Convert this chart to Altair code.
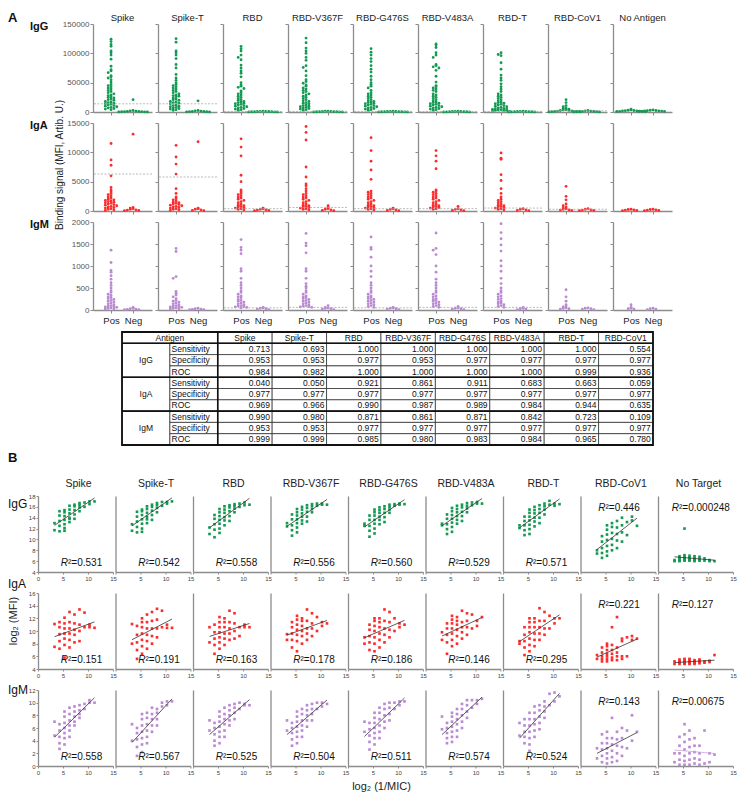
import altair as alt
import pandas as pd

FONT = "Liberation Sans"
GREY = "#8c8c8c"
COLORS = {"IgG": "#139a52", "IgA": "#fb2c2c", "IgM": "#b98ad2"}
ISOTYPES = ["IgG", "IgA", "IgM"]
ANTIGENS_A = ["Spike", "Spike-T", "RBD", "RBD-V367F", "RBD-G476S", "RBD-V483A", "RBD-T", "RBD-CoV1", "No Antigen"]
ANTIGENS_B = ["Spike", "Spike-T", "RBD", "RBD-V367F", "RBD-G476S", "RBD-V483A", "RBD-T", "RBD-CoV1", "No Target"]
TABLE_ANTIGENS = ["Spike", "Spike-T", "RBD", "RBD-V367F", "RBD-G476S", "RBD-V483A", "RBD-T", "RBD-CoV1"]
METRICS = ["Sensitivity", "Specificity", "ROC"]

# ---------------- Panel A : binding signal (MFI) ----------------
IGG_SPIKE_POS = [124000,120000,115000,112000,104000,101000,97000,90000,78000,72000,70000,67000,62000,60000,58000,55000,51000,47000,45000,43000,41000,39000,37000,35000,33000,31000,29000,28000,26000,25000,24000,22000,21000,20000,18000,17000,16000,15000,14000,13000,12000,11000,10000,9000,8000,7000,6000,5000,4000]
IGG_SPIKE_NEG = [21000,2500,2000,1600,1200,900,700,500,400,300,200,100]
IGG_SPIKET_POS = [125000,119000,104000,101000,97000,91000,81000,75000,64000,58000,54000,50000,47000,45000,43000,41000,39000,37000,35000,33000,31000,29000,28000,27000,26000,24000,22000,21000,20000,18000,17000,16000,15000,14000,12000,11000,10000,9000,8000,7000,6000,5000,4000,3000]
IGG_SPIKET_NEG = [19000,2500,2000,1500,1000,800,600,400,300,200]
IGG_RBD_POS = [112000,108000,104000,97000,93000,89000,80000,75000,70000,66000,60000,50000,46000,44000,42000,40000,36000,33000,31000,29000,27000,25000,23000,21000,20000,18000,17000,16000,15000,14000,13000,12000,11000,10000,9000,8000,7000,6000,5000,4000,3000]
IGG_RBD_NEG = [1500,1200,1000,900,800,600,500,400,300,200,100]
IGG_V367F_POS = [126000,118000,109000,104000,100000,93000,88000,79000,76000,70000,62000,55000,52000,49000,46000,44000,41000,39000,37000,35000,33000,31000,29000,27000,25000,23000,21000,19000,18000,16000,15000,14000,12000,11000,10000,9000,8000,7000,6000,5000,4000,3000]
IGG_V367F_NEG = [1600,1300,1100,900,700,600,500,400,300,200,100]
IGG_G476S_POS = [108000,102000,97000,91000,86000,79000,73000,68000,61000,55000,50000,47000,44000,41000,37000,33000,31000,29000,27000,25000,23000,21000,19000,18000,17000,16000,15000,14000,13000,12000,11000,10000,9000,8000,7000,6000,5000,4000,3000]
IGG_G476S_NEG = [1400,1200,1000,900,700,600,500,400,300,200,100]
IGG_V483A_POS = [116000,114000,110000,101000,97000,93000,81000,79000,77000,75000,71000,61000,51000,45000,43000,41000,39000,37000,35000,31000,29000,27000,25000,23000,21000,19000,17000,16000,15000,14000,13000,12000,11000,10000,9000,8000,7000,6000,5000,4000,3000]
IGG_V483A_NEG = [1300,1100,1000,800,700,500,400,300,200,100]
IGG_RBDT_POS = [101000,98000,96000,84000,73000,63000,58000,54000,48000,43000,39000,35000,31000,29000,27000,25000,23000,21000,19000,17000,16000,15000,14000,13000,12000,11000,10000,9000,8000,7000,6000,5500,5000,4500,4000,3500,3000,2500,2000,1500,1000]
IGG_RBDT_NEG = [1500,1200,1000,800,600,500,400,300,200,100]
IGG_COV1_POS = [21000,16000,11000,9000,7000,6000,5000,4000,3500,3000,2500,2000,1500,1200,1000,800,600,400,200]
IGG_COV1_NEG = [2500,2000,1500,1200,1000,800,600,400,200,100]
IGG_NOAG_POS = [5000,3500,3000,2500,2200,2000,1800,1500,1200,1000,800,600]
IGG_NOAG_NEG = [3500,3000,2500,2200,2000,1800,1500,1200,1000,800]
IGG_CUT = [14000, 14000, 900, 1000, 900, 900, 900, 2000, None]

IGA_SPIKE_POS = [11500,8700,7800,6000,4000,3600,3300,3000,2800,2600,2400,2200,2000,1900,1800,1700,1600,1500,1400,1300,1200,1100,1000,900,800,700,600,500,400,300,200,100]
IGA_SPIKE_NEG = [13100,600,500,400,300,200,150,100,50]
IGA_SPIKET_POS = [11200,9200,8000,6300,3800,3000,2400,2100,1900,1700,1500,1400,1300,1200,1100,1000,900,800,700,600,500,400,300,200,100]
IGA_SPIKET_NEG = [11800,500,400,300,200,100,50]
IGA_RBD_POS = [12300,10900,9400,6100,5000,3600,3300,3000,2800,2600,2400,2200,2000,1800,1600,1400,1200,1000,900,800,700,600,500,400,300,200]
IGA_RBD_NEG = [500,400,300,200,150,100,50]
IGA_V367F_POS = [14400,13400,12100,7500,5800,4600,4300,3800,3400,3000,2800,2600,2400,2200,2000,1800,1600,1400,1200,1000,900,800,700,600,500,400,300,200]
IGA_V367F_NEG = [900,600,400,300,200,100,50]
IGA_G476S_POS = [12500,10300,8500,7000,5400,3400,3200,3000,2800,2600,2400,2200,2000,1800,1600,1400,1200,1000,900,800,700,600,500,400,300,200]
IGA_G476S_NEG = [500,400,300,200,100,50]
IGA_V483A_POS = [10300,9400,8500,7200,3600,3400,3200,3000,2800,2600,2400,2200,2000,1800,1600,1400,1200,1000,900,800,700,600,500,400,300]
IGA_V483A_NEG = [800,400,300,200,100,50]
IGA_RBDT_POS = [9900,9000,8800,6200,5200,3800,3000,2400,2000,1800,1600,1400,1200,1000,900,800,700,600,500,400,300,200]
IGA_RBDT_NEG = [400,300,200,100,50]
IGA_COV1_POS = [4200,2500,1900,1200,900,700,500,400,300,200,150,100]
IGA_COV1_NEG = [400,300,200,150,100,50]
IGA_NOAG_POS = [300,250,200,150,100,50]
IGA_NOAG_NEG = [300,250,200,150,100,50]
IGA_CUT = [6300, 5800, 400, 600, 400, 400, 500, 300, None]

IGM_SPIKE_POS = [1360,1080,900,860,780,700,620,560,500,440,400,360,330,300,280,260,240,220,200,180,160,140,120,100,90,80,70,60,50,40,30,20]
IGM_SPIKE_NEG = [60,40,30,20,15,10,5]
IGM_SPIKET_POS = [1400,1330,760,720,420,380,340,300,260,220,200,180,160,140,120,100,90,80,70,60,50,40,30,20]
IGM_SPIKET_NEG = [40,30,20,15,10,5]
IGM_RBD_POS = [1600,1420,1360,1280,940,880,720,620,560,500,440,400,360,320,300,280,240,220,200,180,160,140,120,100,90,80,70,60,50]
IGM_RBD_NEG = [60,50,40,30,20,10]
IGM_V367F_POS = [1740,1520,1460,1300,940,880,720,600,540,500,440,400,360,320,300,280,260,240,220,200,180,160,140,120,100,90,80,70,60]
IGM_V367F_NEG = [100,60,50,40,30,20,10]
IGM_G476S_POS = [1660,1420,1380,1200,1000,880,760,620,560,500,440,400,360,320,300,280,260,240,220,200,180,160,140,120,100,80,60]
IGM_G476S_NEG = [60,50,40,30,20,10]
IGM_V483A_POS = [1750,1400,1360,1260,1000,860,700,620,560,500,440,400,360,320,300,260,240,220,200,180,160,140,120,100,80,60]
IGM_V483A_NEG = [80,50,40,30,20,10]
IGM_RBDT_POS = [1960,1760,1620,1480,1340,1120,1000,880,720,600,500,440,400,360,320,300,260,240,200,180,160,140,120,100,80,60]
IGM_RBDT_NEG = [60,40,30,20,10]
IGM_COV1_POS = [460,300,200,120,90,70,50,40,30,20]
IGM_COV1_NEG = [50,40,30,20,10]
IGM_NOAG_POS = [120,60,40,30,20]
IGM_NOAG_NEG = [40,30,20,10]
IGM_CUT = [None, None, 50, 60, 50, 60, 60, None, None]

A_TICKS_IGG = [0, 50000, 100000, 150000]
A_TICKS_IGA = [0, 5000, 10000, 15000]
A_TICKS_IGM = [0, 500, 1000, 1500, 2000]

# ---------------- Table ----------------
IGG_SENS = ["0.713", "0.693", "1.000", "1.000", "1.000", "1.000", "1.000", "0.554"]
IGG_SPEC = ["0.953", "0.953", "0.977", "0.953", "0.977", "0.977", "0.977", "0.977"]
IGG_ROC = ["0.984", "0.982", "1.000", "1.000", "1.000", "1.000", "0.999", "0.936"]
IGA_SENS = ["0.040", "0.050", "0.921", "0.861", "0.911", "0.683", "0.663", "0.059"]
IGA_SPEC = ["0.977", "0.977", "0.977", "0.977", "0.977", "0.977", "0.977", "0.977"]
IGA_ROC = ["0.969", "0.966", "0.990", "0.987", "0.989", "0.984", "0.944", "0.635"]
IGM_SENS = ["0.990", "0.980", "0.871", "0.861", "0.871", "0.842", "0.723", "0.109"]
IGM_SPEC = ["0.953", "0.953", "0.977", "0.977", "0.977", "0.977", "0.977", "0.977"]
IGM_ROC = ["0.999", "0.999", "0.985", "0.980", "0.983", "0.984", "0.965", "0.780"]

# ---------------- Panel B : log2(MFI) vs log2(1/MIC) ----------------
MIC = [3.3,3.3, 4.3,4.3,4.3,4.3,4.3, 5.3,5.3,5.3,5.3,5.3,5.3,5.3, 6.3,6.3,6.3,6.3,6.3,6.3, 7.3,7.3,7.3,7.3,7.3, 8.3,8.3,8.3,8.3, 9.3,9.3, 10.3,10.3, 11.3]

B_IGG_SPIKE = [11.7,13.0, 11.5,12.5,13.4,14.4,15.2, 11.6,12.1,12.8,13.6,14.3,15.0,15.4, 13.2,13.8,14.0,14.8,15.5,16.2, 13.8,14.6,15.4,16.1,16.4, 15.2,15.9,16.4,16.7, 16.0,16.8, 16.5,17.0, 17.0]
B_IGG_SPIKET = [11.6,12.8, 11.3,12.3,13.3,14.2,15.1, 11.4,12.0,12.9,13.7,14.5,15.2,15.5, 13.0,13.7,14.2,14.9,15.6,16.1, 13.6,14.5,15.3,16.0,16.4, 15.0,15.8,16.3,16.7, 16.2,16.9, 16.6,16.9, 17.0]
B_IGG_RBD = [12.2,11.0, 10.4,11.8,12.8,13.8,14.5, 11.2,12.0,12.9,13.6,14.3,15.0,15.6, 12.6,13.5,14.1,14.9,15.5,16.1, 13.4,14.3,15.2,15.9,16.3, 15.0,15.7,16.2,16.5, 16.0,16.6, 16.3,16.8, 16.4]
B_IGG_V367F = [12.4,13.0, 10.7,11.7,12.6,13.7,14.6, 11.3,12.2,13.0,13.7,14.4,15.0,15.6, 12.9,13.5,14.2,14.8,15.5,16.0, 13.3,14.2,15.1,15.8,16.3, 15.0,15.6,16.1,16.5, 16.2,16.6, 16.4,16.6, 16.4]
B_IGG_G476S = [12.5,12.9, 10.5,11.6,12.5,13.6,14.4, 11.1,12.0,12.9,13.6,14.4,15.0,15.5, 12.8,13.6,14.2,14.9,15.4,15.9, 13.2,14.1,14.9,15.6,16.1, 14.9,15.5,16.0,16.4, 16.2,16.5, 16.4,16.6, 16.5]
B_IGG_V483A = [12.6,12.9, 11.0,11.9,12.8,13.8,14.6, 11.4,12.3,13.1,13.8,14.5,15.2,15.8, 12.9,13.6,14.3,15.0,15.6,16.2, 13.4,14.3,15.1,15.9,16.4, 15.0,15.7,16.2,16.7, 16.3,16.8, 16.6,16.9, 16.6]
B_IGG_RBDT = [12.1,12.6, 10.8,11.7,12.6,13.4,14.2, 11.0,11.9,12.7,13.5,14.2,14.9,15.5, 12.4,13.3,14.0,14.8,15.4,16.0, 13.0,14.0,14.9,15.6,16.3, 14.6,15.5,16.1,16.6, 16.4,17.1, 16.2,16.6, 16.5]
B_IGG_COV1 = [8.0,7.4, 6.6,7.5,8.4,9.6,10.6, 7.0,7.8,8.8,9.9,10.9,11.8,12.6, 8.0,9.0,10.1,11.2,12.3,13.0, 8.4,9.8,11.0,12.2,13.4, 9.6,11.3,12.6,14.0, 10.8,13.2, 13.5,14.2, 12.5]
B_IGG_NOT = [6.0,6.2, 6.1,6.3,6.6,6.0,6.9, 6.2,6.5,6.8,7.1,6.1,12.0,6.4, 6.1,6.4,6.7,7.0,6.2,6.5, 6.0,6.3,6.6,6.9,6.2, 6.1,6.4,6.8,6.2, 6.1,6.5, 6.2,6.0, 6.0]

B_IGA_SPIKE = [11.1,7.5, 7.2,8.4,9.5,10.6,11.4, 5.8,7.8,8.8,9.6,10.4,11.2,12.1, 7.4,8.6,9.6,10.4,11.4,13.0, 8.2,9.4,10.2,11.2,12.6, 8.4,10.0,11.0,13.4, 10.6,12.9, 10.6,11.0, 10.5]
B_IGA_SPIKET = [11.1,8.0, 5.6,7.0,8.2,9.4,10.8, 6.4,7.6,8.6,9.6,10.6,11.4,12.0, 7.2,8.4,9.4,10.4,11.4,12.6, 8.0,9.2,10.4,11.6,13.0, 9.0,10.4,11.8,13.5, 10.6,13.2, 11.0,10.5, 10.5]
B_IGA_RBD = [8.2,10.6, 6.4,7.8,8.8,9.8,11.0, 7.2,8.2,9.0,9.8,10.6,11.4,12.2, 7.8,8.8,9.6,10.6,11.4,12.0, 8.6,9.6,10.4,11.4,13.2, 8.8,10.0,11.2,12.8, 9.2,10.6, 10.6,11.0, 10.6]
B_IGA_V367F = [9.5,8.6, 7.4,8.6,9.6,10.6,11.4, 6.8,8.4,9.4,10.2,11.0,11.8,12.4, 8.0,9.2,10.0,10.8,11.6,12.0, 8.6,9.6,10.4,11.6,13.4, 9.2,10.4,11.2,12.8, 10.0,12.2, 10.8,11.4, 11.2]
B_IGA_G476S = [9.0,8.0, 7.0,8.2,9.2,10.2,11.0, 6.8,8.0,9.0,10.0,10.8,11.6,12.0, 7.4,8.6,9.6,10.6,11.4,12.0, 8.2,9.4,10.4,11.6,13.4, 9.0,10.2,11.4,13.0, 10.0,12.0, 10.6,11.2, 11.0]
B_IGA_V483A = [8.6,9.8, 6.4,8.2,9.4,10.4,11.2, 7.6,8.6,9.6,10.4,11.2,11.8,12.4, 8.0,9.2,10.2,11.0,11.6,12.2, 8.8,9.8,10.6,11.4,13.2, 9.4,10.6,11.6,12.8, 10.4,12.6, 11.6,10.8, 12.2]
B_IGA_RBDT = [8.4,8.0, 6.2,7.4,8.4,9.4,10.6, 6.8,7.8,8.8,9.8,10.6,11.4,12.0, 7.6,8.6,9.6,10.6,11.4,12.0, 8.6,9.6,10.6,11.6,13.6, 9.4,10.4,11.6,13.0, 10.4,12.4, 12.0,11.2, 12.0]
B_IGA_COV1 = [6.2,5.6, 5.2,5.6,6.0,6.6,7.4, 5.2,5.6,6.0,6.4,7.0,7.6,8.0, 5.4,5.8,6.4,7.0,7.8,10.6, 5.4,6.0,6.6,7.4,12.2, 5.6,6.0,8.4,8.8, 6.0,9.0, 9.2,8.6, 8.8]
B_IGA_NOT = [4.8,5.2, 4.8,5.0,5.3,5.5,5.0, 4.8,5.0,5.2,5.4,5.6,4.9,5.1, 4.8,5.0,5.2,5.4,5.6,4.9, 4.8,5.0,5.2,5.4,5.1, 4.9,5.1,5.3,5.5, 5.0,5.2, 5.1,5.3, 6.2]

B_IGM_SPIKE = [7.0,4.8, 2.7,3.6,4.6,5.6,6.6, 3.4,4.4,5.2,6.0,6.8,7.8,8.6, 4.6,5.6,6.4,7.2,8.2,9.2, 6.4,7.0,7.8,8.6,9.4, 7.6,8.2,8.8,9.6, 9.0,9.8, 10.0,10.4, 10.0]
B_IGM_SPIKET = [6.6,4.0, 1.6,3.0,4.2,5.2,6.0, 2.2,3.4,4.4,5.4,6.4,7.4,8.2, 3.6,4.6,5.6,6.6,7.6,8.4, 5.4,6.4,7.4,8.2,9.2, 6.4,7.4,8.4,9.0, 9.4,10.0, 9.6,10.2, 10.2]
B_IGM_RBD = [7.2,5.6, 3.2,4.0,5.0,6.0,6.8, 3.6,4.6,5.4,6.2,7.0,7.8,8.6, 4.6,5.6,6.6,7.4,8.2,9.2, 6.4,7.2,8.0,8.8,9.6, 7.4,8.4,9.2,9.8, 9.0,10.0, 9.6,9.8, 9.6]
B_IGM_V367F = [7.2,5.6, 3.2,4.2,5.2,6.0,6.8, 3.6,4.6,5.4,6.2,7.0,7.8,8.6, 4.6,5.6,6.4,7.2,8.2,9.0, 6.2,7.2,8.0,8.8,9.6, 7.2,8.2,9.0,9.8, 9.0,10.0, 9.4,10.0, 9.8]
B_IGM_G476S = [7.0,5.4, 2.6,3.8,4.8,5.8,6.8, 3.4,4.4,5.2,6.0,6.8,7.6,8.4, 4.4,5.4,6.4,7.4,8.4,9.2, 6.0,7.0,8.0,9.0,9.8, 7.2,8.2,9.2,10.0, 9.0,10.0, 9.6,10.2, 10.2]
B_IGM_V483A = [7.8,5.8, 3.6,4.4,5.2,6.0,6.8, 3.8,4.6,5.4,6.2,7.0,7.8,8.4, 4.6,5.6,6.6,7.4,8.2,9.0, 6.0,7.0,8.0,9.0,9.8, 7.6,8.6,9.6,10.4, 9.2,10.4, 9.8,10.4, 10.6]
B_IGM_RBDT = [6.8,4.8, 3.6,4.6,5.4,6.4,7.4, 2.4,3.4,4.4,5.4,6.4,7.4,8.4, 4.6,5.6,6.6,7.4,8.4,9.4, 5.8,6.8,7.8,8.8,9.6, 7.6,8.6,9.4,10.2, 9.6,11.4, 11.6,10.2, 11.0]
B_IGM_COV1 = [2.8,1.2, 0.6,1.6,2.6,3.6,5.0, 0.4,1.2,2.0,2.8,3.6,4.4,5.4, 0.6,1.4,2.4,3.4,4.4,7.6, 0.8,2.0,3.2,4.2,5.4, 1.6,3.0,4.4,6.0, 2.8,5.6, 4.0,8.0, 5.4]
B_IGM_NOT = [2.0,0.6, 0.2,1.0,2.0,3.2,4.6, 0.2,0.8,1.6,2.6,3.8,5.0,6.6, 0.2,1.0,2.0,3.0,4.2,5.6, 0.4,1.2,2.2,3.2,4.4, 0.2,1.0,2.0,3.2, 0.4,5.6, 0.6,2.0, 1.8]

R2_IGG = ["0.531", "0.542", "0.558", "0.556", "0.560", "0.529", "0.571", "0.446", "0.000248"]
R2_IGA = ["0.151", "0.191", "0.163", "0.178", "0.186", "0.146", "0.295", "0.221", "0.127"]
R2_IGM = ["0.558", "0.567", "0.525", "0.504", "0.511", "0.574", "0.524", "0.143", "0.00675"]

# ---------------- assemble lookups ----------------
A_POS = {
    "IgG": [IGG_SPIKE_POS, IGG_SPIKET_POS, IGG_RBD_POS, IGG_V367F_POS, IGG_G476S_POS, IGG_V483A_POS, IGG_RBDT_POS, IGG_COV1_POS, IGG_NOAG_POS],
    "IgA": [IGA_SPIKE_POS, IGA_SPIKET_POS, IGA_RBD_POS, IGA_V367F_POS, IGA_G476S_POS, IGA_V483A_POS, IGA_RBDT_POS, IGA_COV1_POS, IGA_NOAG_POS],
    "IgM": [IGM_SPIKE_POS, IGM_SPIKET_POS, IGM_RBD_POS, IGM_V367F_POS, IGM_G476S_POS, IGM_V483A_POS, IGM_RBDT_POS, IGM_COV1_POS, IGM_NOAG_POS],
}
A_NEG = {
    "IgG": [IGG_SPIKE_NEG, IGG_SPIKET_NEG, IGG_RBD_NEG, IGG_V367F_NEG, IGG_G476S_NEG, IGG_V483A_NEG, IGG_RBDT_NEG, IGG_COV1_NEG, IGG_NOAG_NEG],
    "IgA": [IGA_SPIKE_NEG, IGA_SPIKET_NEG, IGA_RBD_NEG, IGA_V367F_NEG, IGA_G476S_NEG, IGA_V483A_NEG, IGA_RBDT_NEG, IGA_COV1_NEG, IGA_NOAG_NEG],
    "IgM": [IGM_SPIKE_NEG, IGM_SPIKET_NEG, IGM_RBD_NEG, IGM_V367F_NEG, IGM_G476S_NEG, IGM_V483A_NEG, IGM_RBDT_NEG, IGM_COV1_NEG, IGM_NOAG_NEG],
}
A_CUT = {"IgG": IGG_CUT, "IgA": IGA_CUT, "IgM": IGM_CUT}
A_TICKS = {"IgG": A_TICKS_IGG, "IgA": A_TICKS_IGA, "IgM": A_TICKS_IGM}
TABLE_ROWS = {"IgG": [IGG_SENS, IGG_SPEC, IGG_ROC], "IgA": [IGA_SENS, IGA_SPEC, IGA_ROC], "IgM": [IGM_SENS, IGM_SPEC, IGM_ROC]}
B_Y = {
    "IgG": [B_IGG_SPIKE, B_IGG_SPIKET, B_IGG_RBD, B_IGG_V367F, B_IGG_G476S, B_IGG_V483A, B_IGG_RBDT, B_IGG_COV1, B_IGG_NOT],
    "IgA": [B_IGA_SPIKE, B_IGA_SPIKET, B_IGA_RBD, B_IGA_V367F, B_IGA_G476S, B_IGA_V483A, B_IGA_RBDT, B_IGA_COV1, B_IGA_NOT],
    "IgM": [B_IGM_SPIKE, B_IGM_SPIKET, B_IGM_RBD, B_IGM_V367F, B_IGM_G476S, B_IGM_V483A, B_IGM_RBDT, B_IGM_COV1, B_IGM_NOT],
}
B_R2 = {"IgG": R2_IGG, "IgA": R2_IGA, "IgM": R2_IGM}
B_TICKS = {"IgG": [4, 6, 8, 10, 12, 14, 16, 18], "IgA": [4, 6, 8, 10, 12, 14, 16], "IgM": [0, 2, 4, 6, 8, 10, 12]}

# ---------------- layout ----------------
A_W, A_H, A_ROWGAP, A_COLGAP = 59, 88, 11, 6
B_W, B_H, B_ROWGAP, B_COLGAP = 75, 76, 21, 2.5
LEFT = -30  # common left edge of panel letters, relative to the shared origin


def label(text, x, y, **kw):
    return alt.Chart(pd.DataFrame({"t": [text]})).mark_text(font=FONT, **kw).encode(
        text="t:N", x=alt.value(x), y=alt.value(y))


def a_cell(iso, j):
    pos = A_POS[iso][j]
    neg = A_NEG[iso][j]
    ticks = A_TICKS[iso]
    ymax = ticks[-1]
    df = pd.DataFrame({"value": pos + neg, "grp": [1] * len(pos) + [2] * len(neg)})
    xs = alt.Scale(domain=[0.18, 2.86], nice=False, zero=False)
    ys = alt.Scale(domain=[0, ymax], nice=False)
    xa = alt.Axis(values=[1, 2], labelExpr="datum.value == 1 ? 'Pos' : 'Neg'", labels=(iso == "IgM"),
                  tickSize=3, title=None, grid=False, labelFontSize=9.5, labelColor="#222",
                  labelPadding=2, labelFont=FONT)
    ya = alt.Axis(values=ticks, labels=(j == 0), format="d", tickSize=3, title=None, grid=False,
                  labelFontSize=8, labelColor="#555", labelFont=FONT, labelPadding=1)
    pts = (alt.Chart(df)
           .transform_calculate(b=f"floor(datum.value / {ymax / 34.0})")
           .transform_window(k="row_number()", groupby=["grp", "b"])
           .transform_calculate(off="((datum.k - 1) % 2 == 1 ? -1 : 1) * ceil((datum.k - 1) / 2)")
           .transform_calculate(xp="datum.grp + datum.off * 0.13")
           .mark_circle(size=8, opacity=1, color=COLORS[iso])
           .encode(x=alt.X("xp:Q", scale=xs, axis=xa), y=alt.Y("value:Q", scale=ys, axis=ya)))
    layers = [pts]
    cut = A_CUT[iso][j]
    if cut is not None:
        layers.append(alt.Chart(pd.DataFrame({"value": [cut]}))
                      .mark_rule(color="#aaaaaa", strokeDash=[2, 1.5], strokeWidth=0.8)
                      .encode(y=alt.Y("value:Q", scale=ys, axis=ya)))
    if iso == "IgG":
        layers.append(label(ANTIGENS_A[j], A_W / 2, -6, fontSize=9.5, align="center", baseline="middle", color="#222"))
    return alt.layer(*layers).properties(width=A_W, height=A_H)


def b_cell(iso, j):
    df = pd.DataFrame({"x": MIC, "y": B_Y[iso][j]})
    ticks = B_TICKS[iso]
    xs = alt.Scale(domain=[0, 15], nice=False)
    ys = alt.Scale(domain=[ticks[0], ticks[-1]], nice=False)
    xa = alt.Axis(values=[0, 5, 10, 15], labelExpr=("datum.label" if j == 0 else "datum.value == 0 ? '' : datum.label"),
                  tickSize=2, title=None, grid=False, labelFontSize=6, labelColor="#444", labelPadding=1,
                  labelFont=FONT, labelFlush=False)
    if j == 0:
        ya = alt.Axis(values=ticks, tickSize=2, title=None, grid=False, labelFontSize=6, labelColor="#444",
                      labelPadding=1, labelFont=FONT)
    else:
        ya = alt.Axis(values=ticks, labels=False, ticks=False, title=None, grid=False)
    base = alt.Chart(df)
    pts = base.mark_square(size=7, opacity=1, color=COLORS[iso]).encode(
        x=alt.X("x:Q", scale=xs, axis=xa), y=alt.Y("y:Q", scale=ys, axis=ya))
    line_color = "#c9a6e0" if (iso == "IgM" and j == 8) else "#333333"
    line = base.transform_regression("x", "y").mark_line(color=line_color, strokeWidth=0.8).encode(
        x=alt.X("x:Q", scale=xs, axis=xa), y=alt.Y("y:Q", scale=ys, axis=ya))
    layers = [pts, line]
    if j >= 7:
        ax, ay = (25 if j == 7 else 21), 12
    else:
        ax, ay = 30, B_H - 9
    r2 = B_R2[iso][j]
    layers.append(label("R", ax, ay, fontSize=10, fontStyle="italic", align="right", baseline="middle", color="#111"))
    layers.append(label("\u00b2=" + r2, ax, ay, fontSize=10, align="left", baseline="middle", color="#111"))
    if iso == "IgG":
        layers.append(label(ANTIGENS_B[j], B_W / 2 + 3, -12, fontSize=10.5, align="center", baseline="middle", color="#222"))
    if j == 0:
        row_y = {"IgG": 8, "IgA": -9, "IgM": 0}[iso]
        layers.append(label(iso, LEFT, row_y, fontSize=12, align="left", baseline="middle", color="#111"))
        if iso == "IgA":
            layers.append(label("B", LEFT, -(B_H + B_ROWGAP) - 44, fontSize=13, fontWeight="bold",
                                align="left", baseline="top", color="#111"))
            layers.append(label("log\u2082 (MFI)", LEFT + 6, 28, fontSize=11, angle=270, align="center",
                                baseline="middle", color="#222"))
    if iso == "IgM" and j == 4:
        layers.append(label("log\u2082 (1/MIC)", B_W / 2 - 4, B_H + 21, fontSize=11, align="center",
                            baseline="middle", color="#222"))
    return alt.layer(*layers).properties(width=B_W, height=B_H)


# ---------------- panel A labels column (spacer) ----------------
A_GRID_H = 3 * A_H + 2 * A_ROWGAP
SPACER_W = 50
a_side = alt.layer(
    label("A", LEFT, -12, fontSize=13, fontWeight="bold", align="left", baseline="top", color="#111"),
    label("IgG", -8, 3, fontSize=11, fontWeight="bold", align="left", baseline="middle", color="#111"),
    label("IgA", -8, A_H + A_ROWGAP + 3, fontSize=11, fontWeight="bold", align="left", baseline="middle", color="#111"),
    label("IgM", -8, 2 * (A_H + A_ROWGAP) + 3, fontSize=11, fontWeight="bold", align="left", baseline="middle", color="#111"),
    label("Binding signal (MFI, Artib. U.)", 22, A_H + A_ROWGAP + A_H / 2 - 2, fontSize=10, angle=270,
          align="center", baseline="middle", color="#222"),
).properties(width=SPACER_W, height=A_GRID_H)

# ---------------- table ----------------
LW = 0.88
cells, ctext, ltext, rtext = [], [], [], []
cells.append({"x": 0, "x2": 2 * LW, "y": 0, "y2": 1})
ctext.append({"tx": LW, "ty": 0.5, "t": "Antigen"})
for j, name in enumerate(TABLE_ANTIGENS):
    cells.append({"x": 2 * LW + j, "x2": 2 * LW + j + 1, "y": 0, "y2": 1})
    ctext.append({"tx": 2 * LW + j + 0.5, "ty": 0.5, "t": name})
for g, iso in enumerate(ISOTYPES):
    top = 1 + 3 * g
    cells.append({"x": 0, "x2": LW, "y": top, "y2": top + 3})
    ctext.append({"tx": LW / 2, "ty": top + 1.5, "t": iso})
    for m, metric in enumerate(METRICS):
        r = top + m
        cells.append({"x": LW, "x2": 2 * LW, "y": r, "y2": r + 1})
        ltext.append({"tx": LW + 0.03, "ty": r + 0.5, "t": metric})
        for j, v in enumerate(TABLE_ROWS[iso][m]):
            cells.append({"x": 2 * LW + j, "x2": 2 * LW + j + 1, "y": r, "y2": r + 1})
            rtext.append({"tx": 2 * LW + j + 0.96, "ty": r + 0.5, "t": v})
TW = 2 * LW + 8
thick = [{"x": 0, "x2": TW, "y": yy, "y2": yy} for yy in (1, 4, 7)] + [{"x": 2 * LW, "x2": 2 * LW, "y": 0, "y2": 10}]
UNIT_PX = 54.4
TABLE_OFFSET_PX = 84
TX = alt.Scale(domain=[-TABLE_OFFSET_PX / UNIT_PX, TW], nice=False, zero=False)
TY = alt.Scale(domain=[0, 10], nice=False, reverse=True)


def tx(f):
    return alt.X(f, scale=TX, axis=None)


def ty(f):
    return alt.Y(f, scale=TY, axis=None)


TFS = 8.5
t_cells = alt.Chart(pd.DataFrame(cells)).mark_rect(fill="white", stroke="#222", strokeWidth=0.7).encode(
    x=tx("x:Q"), x2="x2:Q", y=ty("y:Q"), y2="y2:Q")
t_thick = alt.Chart(pd.DataFrame(thick)).mark_rule(color="#111", strokeWidth=1.6).encode(
    x=tx("x:Q"), x2="x2:Q", y=ty("y:Q"), y2="y2:Q")
t_outer = alt.Chart(pd.DataFrame([{"x": 0, "x2": TW, "y": 0, "y2": 10}])).mark_rect(
    fill=None, stroke="#111", strokeWidth=1.8).encode(x=tx("x:Q"), x2="x2:Q", y=ty("y:Q"), y2="y2:Q")
t_c = alt.Chart(pd.DataFrame(ctext)).mark_text(font=FONT, fontSize=TFS, align="center", baseline="middle", color="#111").encode(
    x=tx("tx:Q"), y=ty("ty:Q"), text="t:N")
t_l = alt.Chart(pd.DataFrame(ltext)).mark_text(font=FONT, fontSize=TFS, align="left", baseline="middle", color="#111").encode(
    x=tx("tx:Q"), y=ty("ty:Q"), text="t:N")
t_r = alt.Chart(pd.DataFrame(rtext)).mark_text(font=FONT, fontSize=TFS, align="right", baseline="middle", color="#111").encode(
    x=tx("tx:Q"), y=ty("ty:Q"), text="t:N")
t_edge = label(".", LEFT, 50, fontSize=8, opacity=0, align="left", baseline="middle")
table = alt.layer(t_cells, t_thick, t_outer, t_c, t_l, t_r, t_edge).properties(
    width=TABLE_OFFSET_PX + int(round(TW * UNIT_PX)), height=113)

# ---------------- assemble ----------------
A_grid = alt.ConcatChart(concat=[a_cell(iso, j) for iso in ISOTYPES for j in range(9)], columns=9,
                         spacing={"row": A_ROWGAP, "column": A_COLGAP}, bounds="flush")
A_block = alt.HConcatChart(hconcat=[a_side, A_grid], spacing=5, bounds="flush")
B_block = alt.ConcatChart(concat=[b_cell(iso, j) for iso in ISOTYPES for j in range(9)], columns=9,
                          spacing={"row": B_ROWGAP, "column": B_COLGAP}, bounds="flush")

chart = alt.vconcat(A_block, table, B_block, spacing=6).properties(
    padding={"left": 0, "top": 4, "right": 0, "bottom": 0}
).configure_view(stroke=None).configure_axis(
    domainColor=GREY, tickColor=GREY, domainWidth=1.3, tickWidth=1, grid=False
).configure_text(font=FONT).configure_title(font=FONT)

chart.save("out.html", embed_options={"renderer": "svg", "actions": False})
